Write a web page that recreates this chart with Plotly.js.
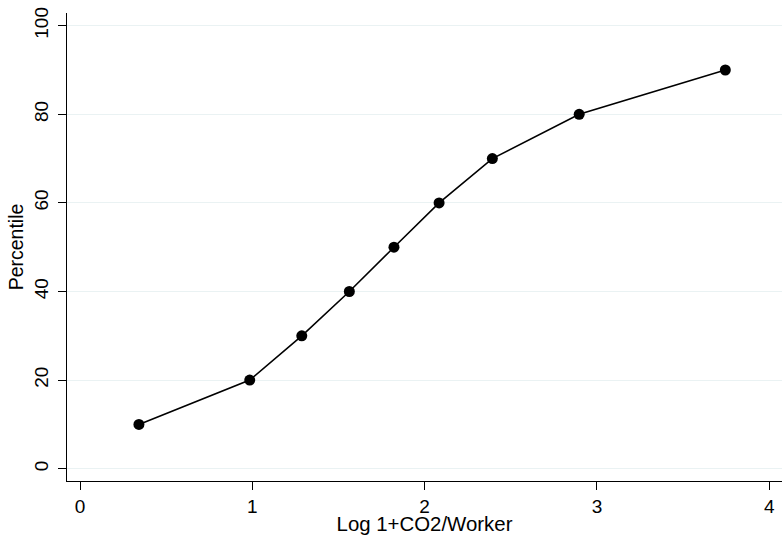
<!DOCTYPE html>
<html>
<head>
<meta charset="utf-8">
<script src="https://cdn.plot.ly/plotly-3.0.1.min.js"></script>
<style>html,body{margin:0;padding:0;background:#fff;}#chart{width:782px;height:535px;}</style>
</head>
<body>
<div id="chart"></div>
<script>
var logCO2PerWorker = [0.342, 0.985, 1.287, 1.563, 1.822, 2.084, 2.393, 2.897, 3.745];
var percentile = [10, 20, 30, 40, 50, 60, 70, 80, 90];
var xTickVals = [0, 1, 2, 3, 4];
var yTickVals = [0, 20, 40, 60, 80, 100];
var xTitle = "Log 1+CO2/Worker";
var yTitle = "Percentile";

var font = "Liberation Sans, Arial, Helvetica, sans-serif";

Plotly.newPlot("chart", [{
  x: logCO2PerWorker,
  y: percentile,
  type: "scatter",
  mode: "lines+markers",
  line: {color: "#000000", width: 1.6},
  marker: {color: "#000000", size: 11},
  hoverinfo: "none"
}], {
  width: 782,
  height: 535,
  paper_bgcolor: "#ffffff",
  plot_bgcolor: "#ffffff",
  showlegend: false,
  margin: {l: 67, r: 0, t: 13, b: 54, pad: 0},
  font: {family: font, color: "#000000"},
  xaxis: {
    range: [-0.0755, 4.074],
    tickvals: xTickVals,
    ticktext: xTickVals.map(String),
    ticks: "outside",
    ticklen: 8,
    tickwidth: 1,
    tickcolor: "#000000",
    ticklabelstandoff: 0,
    showline: true,
    linecolor: "#000000",
    linewidth: 1,
    showgrid: false,
    zeroline: false,
    tickfont: {size: 19, family: font, color: "#000000"},
    title: {text: xTitle, font: {size: 20.4, family: font, color: "#000000"}, standoff: 0}
  },
  yaxis: {
    range: [-2.78, 102.87],
    tickvals: yTickVals,
    ticktext: yTickVals.map(String),
    tickangle: -90,
    ticks: "outside",
    ticklen: 8,
    tickwidth: 1,
    tickcolor: "#000000",
    ticklabelstandoff: 2,
    showline: true,
    linecolor: "#000000",
    linewidth: 1,
    showgrid: true,
    gridcolor: "#eaf2f3",
    gridwidth: 1,
    zeroline: false,
    tickfont: {size: 19, family: font, color: "#000000"},
    title: {text: yTitle, font: {size: 19.5, family: font, color: "#000000"}, standoff: 2}
  }
}, {staticPlot: true, displayModeBar: false});
</script>
</body>
</html>
